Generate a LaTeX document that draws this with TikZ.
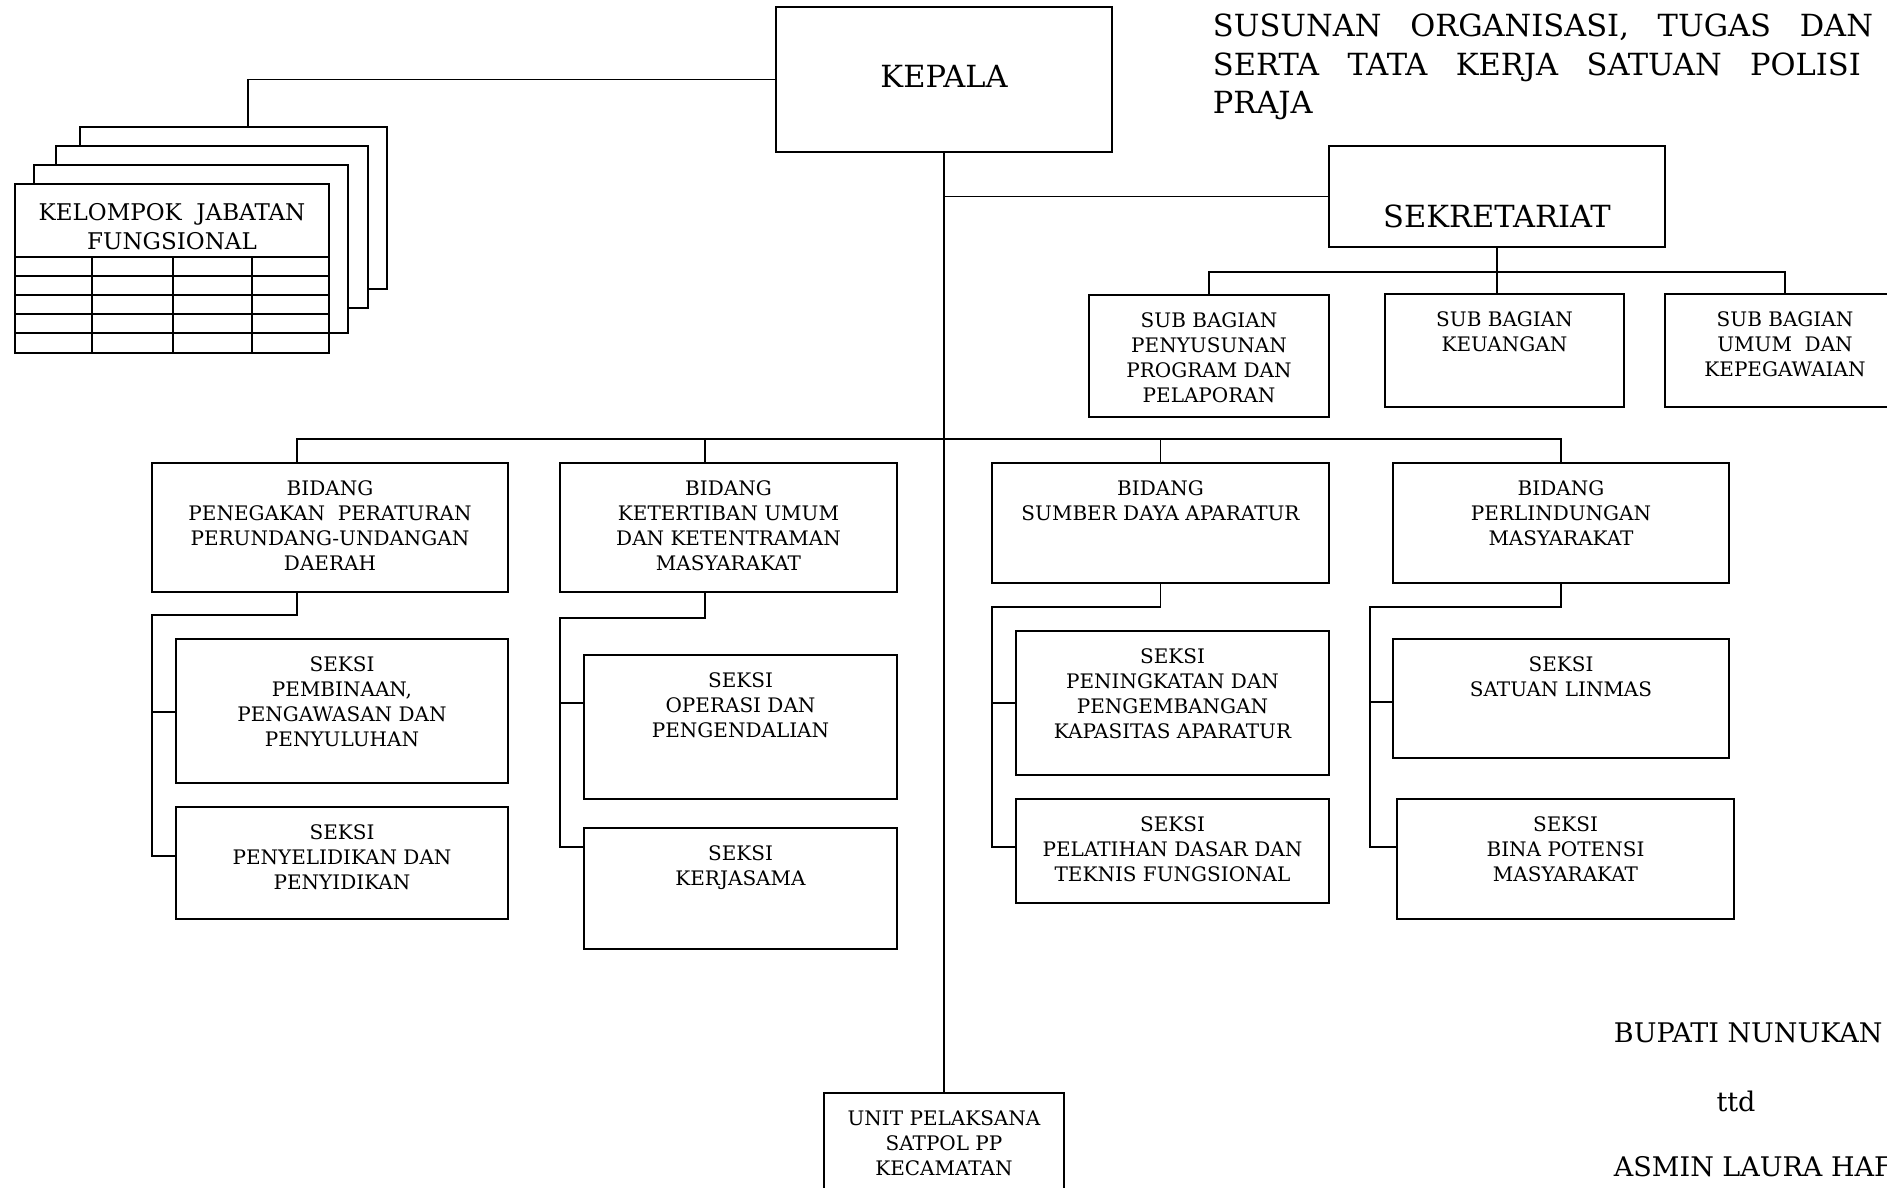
\documentclass[tikz,border=0pt]{standalone}
\usepackage{fontspec}
\setmainfont{DejaVu Serif}
\begin{document}
\begin{tikzpicture}[x=1pt,y=-1pt,line width=1.9pt,
  bx/.style 2 args={draw, fill=white, inner sep=0pt, outer sep=0pt, anchor=north west, minimum width=#1, minimum height=#2},
  lbl/.style={anchor=north, align=center, inner sep=0pt, font=\fontsize{20}{25}\selectfont},
  ttl/.style={inner sep=0pt, font=\fontsize{30.5}{39}\selectfont},
  sig/.style={inner sep=0pt, font=\fontsize{27}{30}\selectfont},
  big/.style={inner sep=0pt, font=\fontsize{30.5}{36}\selectfont}]
\useasboundingbox (0,0) rectangle (1887,1187);
\clip (0,0) rectangle (1887,1187);

% title
\node[ttl, anchor=base west] (t1) at (1212,36) {\makebox[660pt][s]{SUSUNAN ORGANISASI, TUGAS DAN}};
\node[ttl, anchor=base west] (t2) at (1212,75) {\makebox[648pt][s]{SERTA TATA KERJA SATUAN POLISI}};
\node[ttl, anchor=base west] (t3) at (1212,113) {PRAJA};

% kelompok jabatan fungsional stack
\node[bx={307pt}{162pt}] (kjf4) at (80,127) {};
\node[bx={312pt}{162pt}] (kjf3) at (56,146) {};
\node[bx={314pt}{168pt}] (kjf2) at (34,165) {};
\node[bx={314pt}{169pt}] (kjf1) at (15,184) {};
\foreach \yy in {257,276,295,314,333} \draw (15,\yy) -- (329,\yy);
\foreach \xx in {92,173,252} \draw (\xx,257) -- (\xx,353);
\node[anchor=north, align=center, inner sep=0pt, font=\fontsize{23}{29}\selectfont] (kjft) at ([yshift=-18.6pt]kjf1.north) {KELOMPOK\ \ JABATAN\\FUNGSIONAL};

% kepala
\node[bx={336pt}{145pt}] (kepala) at (776,7) {};
\node[big] (kepalat) at ([yshift=3pt]kepala.center) {KEPALA};

% sekretariat
\node[bx={336pt}{101pt}] (sekr) at (1329,146) {};
\node[big] (sekrt) at ([yshift=-19.5pt]sekr.center) {SEKRETARIAT};
\node[bx={240pt}{122pt}] (sb1) at (1089,295) {};
\node[bx={239pt}{113pt}] (sb2) at (1385,294) {};
\node[bx={240pt}{113pt}] (sb3) at (1665,294) {};
\node[lbl] (sb1t) at ([yshift=-17pt]sb1.north) {SUB BAGIAN\\PENYUSUNAN\\PROGRAM DAN\\PELAPORAN};
\node[lbl] (sb2t) at ([yshift=-17pt]sb2.north) {SUB BAGIAN\\KEUANGAN};
\node[lbl] (sb3t) at ([yshift=-17pt]sb3.north) {SUB BAGIAN\\UMUM\ \ DAN\\KEPEGAWAIAN};

% bidang
\node[bx={356pt}{129pt}] (b1) at (152,463) {};
\node[bx={337pt}{129pt}] (b2) at (560,463) {};
\node[bx={337pt}{120pt}] (b3) at (992,463) {};
\node[bx={336pt}{120pt}] (b4) at (1393,463) {};
\node[lbl] (b1t) at ([yshift=-17pt]b1.north) {BIDANG\\PENEGAKAN\ \ PERATURAN\\PERUNDANG-UNDANGAN\\DAERAH};
\node[lbl] (b2t) at ([yshift=-17pt]b2.north) {BIDANG\\KETERTIBAN UMUM\\DAN KETENTRAMAN\\MASYARAKAT};
\node[lbl] (b3t) at ([yshift=-17pt]b3.north) {BIDANG\\SUMBER DAYA APARATUR};
\node[lbl] (b4t) at ([yshift=-17pt]b4.north) {BIDANG\\PERLINDUNGAN\\MASYARAKAT};

% seksi
\node[bx={332pt}{144pt}] (s1) at (176,639) {};
\node[bx={332pt}{112pt}] (s2) at (176,807) {};
\node[bx={313pt}{144pt}] (s3) at (584,655) {};
\node[bx={313pt}{121pt}] (s4) at (584,828) {};
\node[bx={313pt}{144pt}] (s5) at (1016,631) {};
\node[bx={313pt}{104pt}] (s6) at (1016,799) {};
\node[bx={336pt}{119pt}] (s7) at (1393,639) {};
\node[bx={337pt}{120pt}] (s8) at (1397,799) {};
\node[lbl] (s1t) at ([yshift=-17pt]s1.north) {SEKSI\\PEMBINAAN,\\PENGAWASAN DAN\\PENYULUHAN};
\node[lbl] (s2t) at ([yshift=-17pt]s2.north) {SEKSI\\PENYELIDIKAN DAN\\PENYIDIKAN};
\node[lbl] (s3t) at ([yshift=-17pt]s3.north) {SEKSI\\OPERASI DAN\\PENGENDALIAN};
\node[lbl] (s4t) at ([yshift=-17pt]s4.north) {SEKSI\\KERJASAMA};
\node[lbl] (s5t) at ([yshift=-17pt]s5.north) {SEKSI\\PENINGKATAN DAN\\PENGEMBANGAN\\KAPASITAS APARATUR};
\node[lbl] (s6t) at ([yshift=-17pt]s6.north) {SEKSI\\PELATIHAN DASAR DAN\\TEKNIS FUNGSIONAL};
\node[lbl] (s7t) at ([yshift=-17pt]s7.north) {SEKSI\\SATUAN LINMAS};
\node[lbl] (s8t) at ([yshift=-17pt]s8.north) {SEKSI\\BINA POTENSI\\MASYARAKAT};

% unit
\node[bx={240pt}{130pt}] (unit) at (824,1093) {};
\node[lbl] (unitt) at ([yshift=-17pt]unit.north) {UNIT PELAKSANA\\SATPOL PP\\KECAMATAN};

% signature
\node[sig, anchor=west] (bup) at (1613,1033) {BUPATI NUNUKAN};
\node[sig, anchor=base] (ttd) at (1736,1111) {ttd};
\node[sig, anchor=west] (asm) at (1613,1167) {ASMIN LAURA HAFID};

% connectors
\draw (kepala.west) -| ([xshift=14.5pt]kjf4.north);
\draw (kepala.south) -- (unit.north);
\draw (kepala.south |- sekr.west) -- (sekr.west);
\draw (sekr.south) -- (sekr.south |- sb2.north);
\draw (sb1.north) -- ++(0,-23) -| (sb3.north);

\draw ([xshift=-33pt]b1.north) -- ++(0,-24) -| (b4.north);
\draw ([xshift=-23.5pt]b2.north) -- ++(0,-24);
\draw (b3.north) -- ++(0,-24);

\coordinate (j1) at (152,615); \coordinate (j1a) at (152,712); \coordinate (j1b) at (152,856);
\coordinate (j2) at (560,618); \coordinate (j2a) at (560,703); \coordinate (j2b) at (560,847);
\coordinate (j3) at (992,607); \coordinate (j3a) at (992,703); \coordinate (j3b) at (992,847);
\coordinate (j4) at (1370,607); \coordinate (j4a) at (1370,702); \coordinate (j4b) at (1370,847);

\draw ([xshift=-33pt]b1.south) |- (j1) -- (j1b) -- (j1b -| s2.west);
\draw (j1a) -- (j1a -| s1.west);
\draw ([xshift=-23.5pt]b2.south) |- (j2) -- (j2b) -- (j2b -| s4.west);
\draw (j2a) -- (j2a -| s3.west);
\draw (b3.south) |- (j3) -- (j3b) -- (j3b -| s6.west);
\draw (j3a) -- (j3a -| s5.west);
\draw (b4.south) |- (j4) -- (j4b) -- (j4b -| s8.west);
\draw (j4a) -- (j4a -| s7.west);
\end{tikzpicture}
\end{document}
